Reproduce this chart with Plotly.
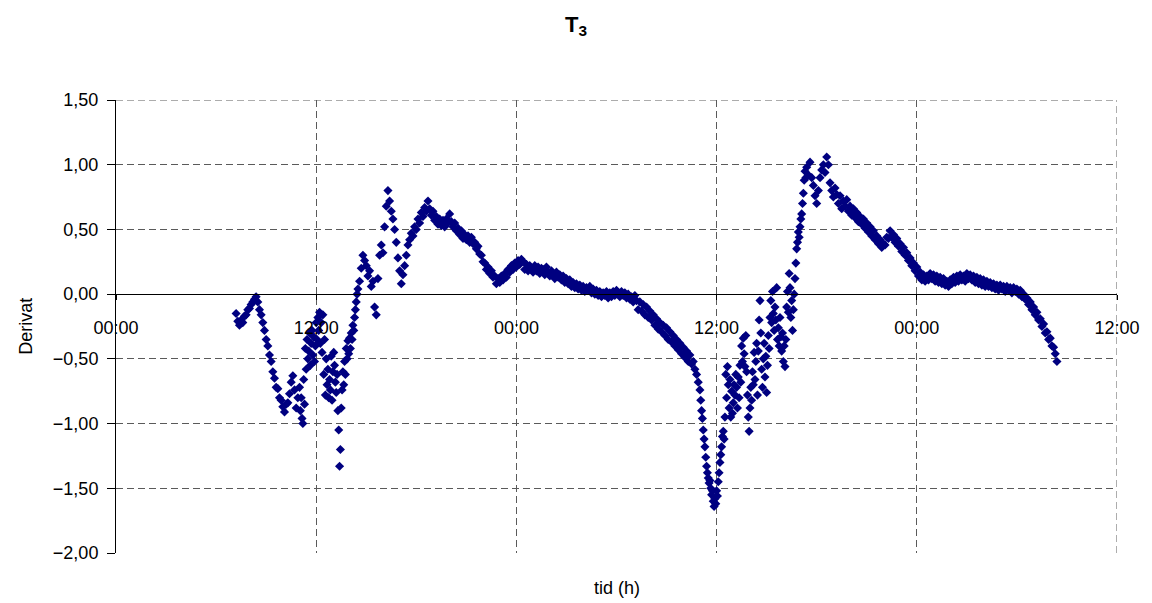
import numpy as np
import plotly.graph_objects as go

# Derivative of T3 over time, sampled in segments (start hour, step in hours, values)
seg_a_start, seg_a_step = 7.2, 0.1
seg_a_values = [
    -0.15, -0.21, -0.24, -0.20, -0.22, -0.17, -0.16, -0.12,
    -0.11, -0.08, -0.06, -0.04, -0.02, -0.06, -0.12, -0.16, -0.22, -0.28,
    -0.35, -0.40, -0.47, -0.52, -0.60, -0.65, -0.72, -0.73, -0.80, -0.82,
    -0.87, -0.91, -0.85, -0.84, -0.77, -0.68, -0.63, -0.74, -0.88, -0.80,
]

seg_b_start, seg_b_step = 11.0, 0.05
seg_b_values = [
    -0.72, -0.90, -0.80, -0.96, -1.00, -0.66, -0.85, -0.42, -0.58, -0.35,
    -0.50, -0.44, -0.30, -0.55, -0.38, -0.28, -0.47, -0.33, -0.52, -0.40,
    -0.22, -0.35, -0.18, -0.28, -0.14, -0.38, -0.22, -0.45, -0.16, -0.62,
    -0.35, -0.78, -0.50, -0.70, -0.58, -0.80, -0.66, -0.74, -0.48, -0.82,
    -0.60, -0.45, -0.55, -0.68, -0.76, -0.62, -0.90, -1.05, -1.33, -1.20,
    -0.88, -0.74, -0.60, -0.70, -0.52, -0.62, -0.42, -0.50, -0.36, -0.46,
    -0.34, -0.42, -0.30, -0.35, -0.24, -0.28, -0.18, -0.12, -0.06, 0.00,
]

seg_c_start, seg_c_step = 14.5, 0.1
seg_c_values = [
    0.04, 0.10, 0.20, 0.30, 0.26,
    0.22, 0.14, 0.18, 0.06, 0.10, -0.10, -0.16, 0.12, 0.30, 0.38,
    0.32, 0.52, 0.68, 0.80, 0.72, 0.64, 0.58, 0.50, 0.40, 0.28,
    0.18, 0.08, 0.15, 0.22, 0.30, 0.38, 0.42, 0.47, 0.45, 0.52,
    0.50, 0.58, 0.55, 0.63, 0.60, 0.67, 0.64, 0.72, 0.66, 0.61,
    0.64, 0.57, 0.60, 0.54, 0.58, 0.53, 0.57, 0.52, 0.58, 0.55,
    0.62, 0.56, 0.52, 0.55, 0.49, 0.51, 0.46, 0.49, 0.43, 0.46,
    0.42, 0.45, 0.40, 0.44, 0.39, 0.40, 0.35, 0.37, 0.31, 0.30,
    0.25, 0.24, 0.19, 0.21, 0.16, 0.18, 0.13, 0.14, 0.08, 0.12,
    0.09, 0.14, 0.11, 0.16, 0.13, 0.19, 0.17, 0.22, 0.19, 0.24,
    0.21, 0.26, 0.23, 0.27, 0.25, 0.19, 0.23, 0.18, 0.22, 0.20,
    0.17, 0.22, 0.18, 0.21, 0.16, 0.20, 0.19, 0.15, 0.21, 0.17,
    0.14, 0.18, 0.15, 0.12, 0.17, 0.13, 0.15, 0.11, 0.14, 0.09,
    0.12, 0.08, 0.11, 0.06, 0.09, 0.05, 0.08, 0.04, 0.07, 0.03,
    0.06, 0.02, 0.05, 0.03, 0.06, 0.01, 0.04, 0.00, 0.03, -0.01,
    0.02, -0.02, 0.01, -0.01, 0.02, -0.03, 0.01, -0.02, 0.02, -0.01,
    0.03, 0.00, -0.02, 0.02, -0.01, 0.01, -0.03, 0.00, -0.04, -0.02,
    -0.06, -0.01, -0.05, -0.12, -0.06, -0.13, -0.08, -0.16, -0.10, -0.18,
    -0.13, -0.20, -0.16, -0.24, -0.19, -0.27, -0.22, -0.29, -0.24, -0.32,
    -0.26, -0.35, -0.29, -0.37, -0.32, -0.40, -0.35, -0.43, -0.38, -0.46,
    -0.41, -0.49, -0.44, -0.52, -0.47, -0.54, -0.52, -0.58, -0.62, -0.68,
]

seg_d_start, seg_d_step = 35.0, 0.05
seg_d_values = [
    -0.74, -0.82, -0.90, -0.96, -1.05, -1.12, -1.18, -1.26, -1.33, -1.38,
    -1.42, -1.46, -1.44, -1.50, -1.55, -1.52, -1.60, -1.64, -1.58, -1.62,
    -1.52, -1.56, -1.45, -1.38, -1.30, -1.24, -1.18, -1.10, -1.06, -1.12,
    -0.95, -0.62, -0.80, -0.56, -0.70, -0.88, -0.66, -0.95, -0.75, -0.92,
    -0.84, -0.70, -0.78, -0.62, -0.72, -0.88, -0.64, -0.80, -0.55, -0.68,
    -0.40, -0.52, -0.34, -0.46, -0.56, -0.32, -0.60, -0.78, -0.95, -1.06,
    -0.88, -0.72, -0.82, -0.60, -0.70, -0.45, -0.66, -0.52, -0.38, -0.78,
    -0.44, -0.20, -0.05, -0.30, -0.58, -0.72, -0.50, -0.38, -0.64, -0.48,
    -0.76, -0.55, -0.32, -0.42, -0.18, -0.05, -0.22, 0.02, -0.15, -0.28,
    -0.10, -0.20, 0.05, -0.35, -0.26, -0.40, -0.18, -0.33, -0.44, -0.30,
    -0.52, -0.40, -0.56, -0.35, -0.10, 0.02, -0.14, 0.16, 0.05, -0.18,
    -0.05, -0.28, -0.12, 0.00, 0.12, 0.24, 0.35, 0.40, 0.48, 0.44,
    0.52, 0.58, 0.62, 0.70, 0.78, 0.88, 0.95, 0.90,
]

seg_e_start, seg_e_step = 41.4, 0.1
seg_e_values = [
    0.98, 0.92, 1.02, 0.90, 0.84, 0.76,
    0.70, 0.80, 0.90, 0.96, 1.00, 0.94, 1.06, 1.00, 0.86, 0.80,
    0.75, 0.82, 0.77, 0.70, 0.76, 0.66, 0.72, 0.68, 0.73, 0.64,
    0.68, 0.61, 0.66, 0.59, 0.63, 0.56, 0.60, 0.54, 0.58, 0.51,
    0.55, 0.48, 0.52, 0.45, 0.49, 0.42, 0.45, 0.39, 0.42, 0.36,
    0.39, 0.38, 0.44, 0.43, 0.49, 0.44, 0.46, 0.40, 0.43, 0.37,
    0.39, 0.33, 0.36, 0.30, 0.32, 0.26, 0.28, 0.22, 0.24, 0.18,
    0.21, 0.14, 0.17, 0.11, 0.15, 0.10, 0.14, 0.11, 0.16, 0.12,
    0.15, 0.10, 0.14, 0.09, 0.13, 0.08, 0.12, 0.07, 0.10, 0.06,
    0.11, 0.08, 0.13, 0.09, 0.14, 0.10, 0.15, 0.11, 0.14, 0.10,
    0.16, 0.12, 0.15, 0.11, 0.14, 0.09, 0.13, 0.08, 0.12, 0.07,
    0.11, 0.06, 0.10, 0.06, 0.09, 0.05, 0.08, 0.04, 0.07, 0.03,
    0.07, 0.04, 0.06, 0.02, 0.06, 0.03, 0.05, 0.01, 0.05, 0.02,
    0.04, 0.00, 0.03, -0.02, 0.00, -0.04, -0.03, -0.08, -0.06, -0.12,
    -0.10, -0.16, -0.14, -0.20, -0.19, -0.25, -0.23, -0.30, -0.29, -0.35,
    -0.34, -0.40, -0.41, -0.46, -0.52,
]

segments = [
    (seg_a_start, seg_a_step, seg_a_values),
    (seg_b_start, seg_b_step, seg_b_values),
    (seg_c_start, seg_c_step, seg_c_values),
    (seg_d_start, seg_d_step, seg_d_values),
    (seg_e_start, seg_e_step, seg_e_values),
]

hours = np.concatenate([s + st * np.arange(len(v)) for s, st, v in segments])
deriv = np.concatenate([np.asarray(v, dtype=float) for _, _, v in segments])

x_tick_hours = [0, 12, 24, 36, 48, 60]
x_tick_labels = ["00:00", "12:00", "00:00", "12:00", "00:00", "12:00"]
y_ticks = [-2.0, -1.5, -1.0, -0.5, 0.0, 0.5, 1.0, 1.5]

FONT = "Liberation Sans, Arial, sans-serif"
GRID = "#5a5a5a"
DASH = "7px,4px"
X_MIN, X_MAX = 0, 60
Y_MIN, Y_MAX = -2.0, 1.5

fig = go.Figure(
    go.Scatter(
        x=hours,
        y=deriv,
        mode="markers",
        marker=dict(symbol="diamond", size=7, color="#000080", line=dict(width=0)),
        hoverinfo="skip",
    )
)

# dashed border gridlines at the far ends of the ranges (top and right)
edge_lines = [
    dict(type="line", xref="x", yref="y", x0=X_MIN, x1=X_MAX, y0=Y_MAX, y1=Y_MAX,
         line=dict(color=GRID, width=1, dash=DASH), layer="below"),
    dict(type="line", xref="x", yref="y", x0=X_MAX, x1=X_MAX, y0=Y_MIN, y1=Y_MAX,
         line=dict(color=GRID, width=1, dash=DASH), layer="below"),
]

fig.update_layout(
    width=1152,
    height=603,
    margin=dict(l=116, r=32, t=100, b=50),
    paper_bgcolor="white",
    plot_bgcolor="white",
    showlegend=False,
    separators=",.",
    font=dict(family=FONT, size=18, color="black"),
    shapes=edge_lines,
    title=dict(
        text="<b>T<sub>3</sub></b>",
        x=0.5,
        xref="container",
        xanchor="center",
        y=1 - 24 / 603,
        yref="container",
        yanchor="middle",
        font=dict(family=FONT, size=22, color="black"),
    ),
    xaxis=dict(
        range=[X_MIN, X_MAX],
        tickmode="array",
        tickvals=x_tick_hours,
        ticktext=x_tick_labels,
        showgrid=True,
        gridcolor=GRID,
        gridwidth=1,
        griddash=DASH,
        zeroline=False,
        showline=True,
        linecolor="black",
        linewidth=1,
        anchor="free",
        position=(0 - Y_MIN) / (Y_MAX - Y_MIN),
        ticks="outside",
        ticklen=5,
        tickcolor="black",
        ticklabelstandoff=12,
        tickfont=dict(family=FONT, size=18, color="black"),
    ),
    yaxis=dict(
        range=[Y_MIN, Y_MAX],
        tickmode="array",
        tickvals=y_ticks,
        tickformat=".2f",
        showgrid=True,
        gridcolor=GRID,
        gridwidth=1,
        griddash=DASH,
        zeroline=False,
        showline=True,
        linecolor="black",
        linewidth=1,
        ticks="outside",
        ticklen=8,
        tickcolor="black",
        ticklabelstandoff=5,
        tickfont=dict(family=FONT, size=18, color="black"),
    ),
    annotations=[
        dict(
            text="Derivat",
            xref="paper", yref="paper",
            x=(25 - 116) / 1004, y=0.5,
            xanchor="center", yanchor="middle",
            textangle=-90, showarrow=False,
            font=dict(family=FONT, size=18, color="black"),
        ),
        dict(
            text="tid (h)",
            xref="paper", yref="paper",
            x=0.5, y=-35 / 453,
            xanchor="center", yanchor="middle",
            showarrow=False,
            font=dict(family=FONT, size=18, color="black"),
        ),
    ],
)

fig.write_html("out.html")
